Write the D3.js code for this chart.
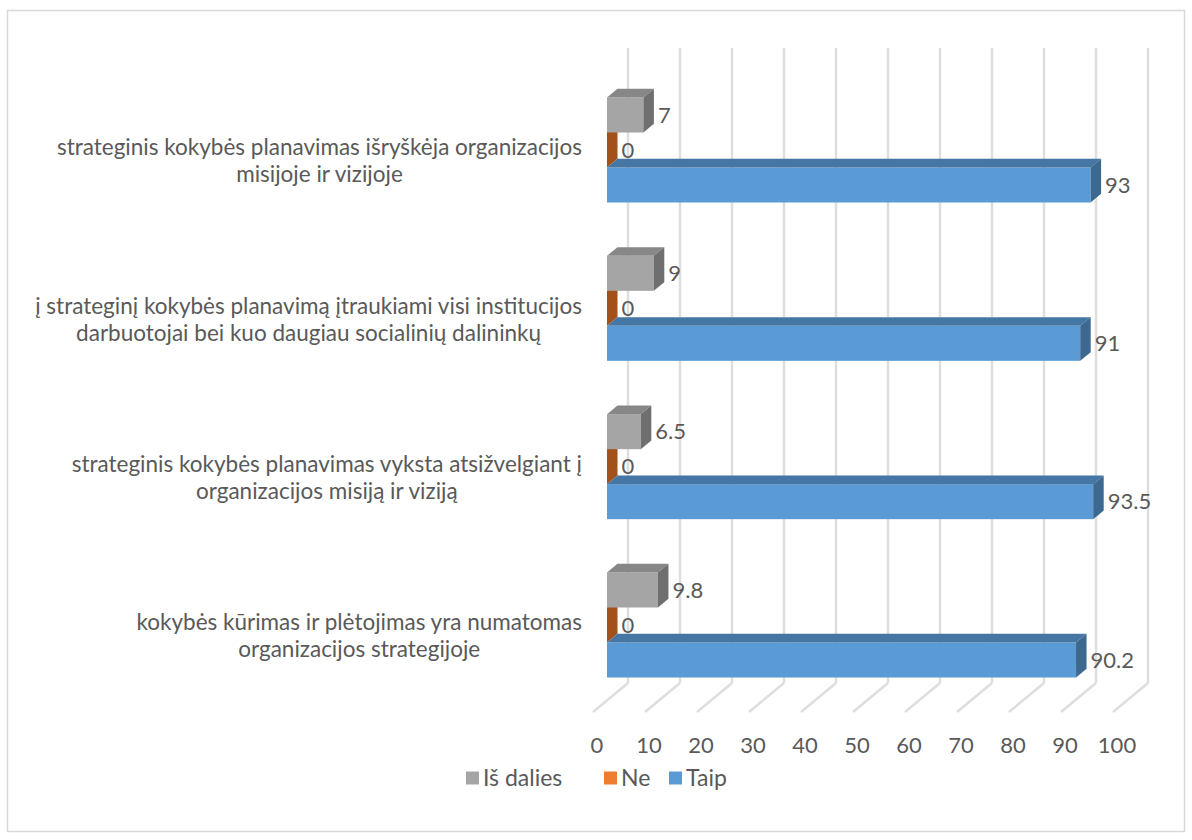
<!DOCTYPE html>
<html>
<head>
<meta charset="utf-8">
<script src="https://cdn.jsdelivr.net/npm/d3@7"></script>
<style>
  body { margin: 0; background: #fff; }
  text { font-family: Lato, "Open Sans", sans-serif; fill: #595959; }
</style>
</head>
<body>
<svg id="chart" width="1192" height="840"></svg>
<script>
// category labels, already split into the two lines shown
const categories = [
  ["strateginis kokybės planavimas išryškėja organizacijos", "misijoje ir vizijoje"],
  ["į strateginį kokybės planavimą įtraukiami visi institucijos", "darbuotojai bei kuo daugiau socialinių dalininkų"],
  ["strateginis kokybės planavimas vyksta atsižvelgiant į", "organizacijos misiją ir viziją"],
  ["kokybės kūrimas ir plėtojimas yra numatomas", "organizacijos strategijoje"]
];
const seriesNames = ["Iš dalies", "Ne", "Taip"];
const isDalies = [7, 9, 6.5, 9.8];
const ne = [0, 0, 0, 0];
const taip = [93, 91, 93.5, 90.2];
const tickValues = [0, 10, 20, 30, 40, 50, 60, 70, 80, 90, 100];

const seriesValues = { "Iš dalies": isDalies, "Ne": ne, "Taip": taip };
const colors = {
  "Iš dalies": { front: "#a5a5a5", top: "#878787", side: "#6f6f6f", legend: "#a5a5a5" },
  "Ne": { front: "#ed7d31", top: "#c0632a", side: "#a3511b", legend: "#ed7d31" },
  "Taip": { front: "#5b9bd5", top: "#4676a3", side: "#3d6890", legend: "#5b9bd5" }
};

const svg = d3.select("#chart");

// chart border
svg.append("rect")
  .attr("x", 7.5).attr("y", 10.5)
  .attr("width", 1177).attr("height", 821)
  .attr("fill", "#fff")
  .attr("stroke", "#d9d9d9")
  .attr("stroke-width", 1.5);

// 3d geometry: floor front edge and depth vector
const floorY = 712;
const depth = { dx: 35, dy: -29 };
const x = d3.scaleLinear().domain([0, 100]).range([593, 1113]);

const catKeys = categories.map((d, i) => i);
const y = d3.scalePoint().domain(catKeys).range([150, 625]);
const sub = d3.scaleBand().domain(seriesNames).range([-52.5, 52.5]);

// back wall gridlines + floor lines
const grid = svg.append("g");
tickValues.forEach(t => {
  const xf = x(t), xb = x(t) + depth.dx;
  grid.append("line")
    .attr("x1", xb).attr("y1", floorY + depth.dy)
    .attr("x2", xb).attr("y2", 48)
    .attr("stroke", "#dedede").attr("stroke-width", 2.5);
  grid.append("line")
    .attr("x1", xf).attr("y1", floorY)
    .attr("x2", xb).attr("y2", floorY + depth.dy)
    .attr("stroke", "#dedede").attr("stroke-width", 2.5);
});

// tick labels
svg.append("g").selectAll("text")
  .data(tickValues)
  .join("text")
  .attr("x", d => x(d) + 4)
  .attr("y", 745)
  .attr("dy", "0.35em")
  .attr("text-anchor", "middle")
  .attr("font-size", 22)
  .text(d => d);

// bars sit between 0.4 and 0.7 of the depth
const f0 = 0.4, f1 = 0.7;
const bx = v => x(v) + depth.dx * f0;
const ox = depth.dx * (f1 - f0), oy = depth.dy * (f1 - f0);

const bars = [];
categories.forEach((c, i) => {
  seriesNames.forEach(s => bars.push({ cat: i, series: s, value: seriesValues[s][i] }));
});
// zero bars first so the others paint over them
const drawOrder = ["Ne", "Iš dalies", "Taip"];
bars.sort((a, b) => drawOrder.indexOf(a.series) - drawOrder.indexOf(b.series));

const barG = svg.append("g");
bars.forEach(d => {
  const x0 = bx(0), x1 = bx(d.value);
  const yT = y(d.cat) + sub(d.series), yB = yT + sub.bandwidth();
  const col = colors[d.series];
  const g = barG.append("g");
  g.append("rect")
    .attr("x", x0).attr("y", yT)
    .attr("width", x1 - x0).attr("height", yB - yT)
    .attr("fill", col.front);
  g.append("polygon")
    .attr("points", [[x0, yT], [x1, yT], [x1 + ox, yT + oy], [x0 + ox, yT + oy]].join(" "))
    .attr("fill", col.top);
  g.append("polygon")
    .attr("points", [[x1, yT], [x1 + ox, yT + oy], [x1 + ox, yB + oy], [x1, yB]].join(" "))
    .attr("fill", col.side);
  g.append("text")
    .attr("x", x1 + ox + 4)
    .attr("y", (yT + yB) / 2)
    .attr("dy", "0.35em")
    .attr("font-size", 22)
    .text(d.value);
});

// category labels: lines centred on the widest line, block right aligned
const labelRight = 582;
categories.forEach((lines, i) => {
  const g = svg.append("g");
  const texts = lines.map((l, j) => g.append("text")
    .attr("y", y(i) + 11 + (j - (lines.length - 1) / 2) * 27)
    .attr("dy", "0.35em")
    .attr("text-anchor", "middle")
    .attr("font-size", 22.5)
    .text(l));
  const maxW = d3.max(texts, t => t.node().getComputedTextLength());
  texts.forEach(t => t.attr("x", labelRight - maxW / 2));
});

// legend
const legendY = 778;
const legendX = [466, 604, 669];
const legend = svg.append("g");
seriesNames.forEach((s, i) => {
  legend.append("rect")
    .attr("x", legendX[i]).attr("y", legendY - 6.5)
    .attr("width", 13).attr("height", 13)
    .attr("fill", colors[s].legend);
  legend.append("text")
    .attr("x", legendX[i] + 17).attr("y", legendY)
    .attr("dy", "0.35em")
    .attr("font-size", 23)
    .text(s);
});
</script>
</body>
</html>
